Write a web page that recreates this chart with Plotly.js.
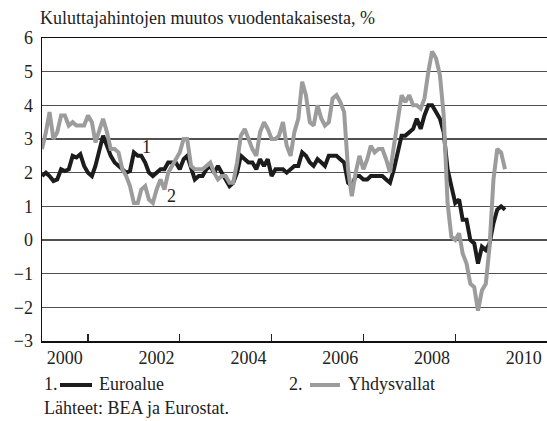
<!DOCTYPE html>
<html><head><meta charset="utf-8">
<script src="https://cdn.plot.ly/plotly-3.0.1.min.js"></script>
<style>html,body{margin:0;padding:0;background:#fff}#chart{width:547px;height:421px}</style>
</head><body><div id="chart"></div>
<script>
// Monthly data, January 2000 - February 2010
const firstYear = 2000;
const euroArea = [
  1.9, 2.0, 1.9, 1.75, 1.8, 2.1, 2.05, 2.1, 2.5, 2.45, 2.55, 2.2,
  2.0, 1.9, 2.2, 2.7, 3.1, 2.8, 2.5, 2.3, 2.2, 2.1, 2.0, 2.05,
  2.6, 2.5, 2.5, 2.3, 2.0, 1.9, 2.0, 2.1, 2.1, 2.3, 2.3, 2.3,
  2.1, 2.4, 2.5, 2.1, 1.8, 1.9, 1.9, 2.1, 2.2, 2.0, 2.2, 2.0,
  1.8, 1.6, 1.7, 2.0, 2.5, 2.4, 2.3, 2.3, 2.1, 2.4, 2.2, 2.4,
  1.9, 2.1, 2.1, 2.1, 2.0, 2.1, 2.2, 2.2, 2.6, 2.5, 2.3, 2.2,
  2.4, 2.3, 2.2, 2.5, 2.5, 2.5, 2.4, 2.3, 1.7, 1.6, 1.9, 1.9,
  1.8, 1.8, 1.9, 1.9, 1.9, 1.9, 1.8, 1.7, 2.1, 2.6, 3.1, 3.1,
  3.2, 3.3, 3.6, 3.3, 3.7, 4.0, 4.0, 3.8, 3.6, 3.2, 2.1, 1.6,
  1.1, 1.2, 0.6, 0.6, 0.0, -0.1, -0.7, -0.2, -0.3, -0.1, 0.5, 0.9,
  1.0, 0.9
];
const usa = [
  2.7, 3.2, 3.8, 3.0, 3.2, 3.7, 3.7, 3.4, 3.5, 3.4, 3.4, 3.4,
  3.7, 3.5, 2.9, 3.3, 3.6, 3.2, 2.7, 2.7, 2.6, 2.1, 1.9, 1.6,
  1.1, 1.1, 1.5, 1.6, 1.2, 1.1, 1.5, 1.8, 1.5, 2.0, 2.2, 2.4,
  2.6, 3.0, 3.0, 2.2, 2.1, 2.1, 2.1, 2.2, 2.3, 2.0, 1.8, 1.9,
  1.9, 1.7, 1.7, 2.3, 3.1, 3.3, 3.0, 2.7, 2.5, 3.2, 3.5, 3.3,
  3.0, 3.0, 3.1, 3.5, 2.8, 2.5, 3.2, 3.6, 4.7, 4.3, 3.5, 3.4,
  4.0, 3.6, 3.4, 3.5, 4.2, 4.3, 4.1, 3.8, 2.1, 1.3, 2.0, 2.5,
  2.1, 2.4, 2.8, 2.6, 2.7, 2.7, 2.4, 2.0, 2.8, 3.5, 4.3, 4.1,
  4.3, 4.0, 4.0, 3.9, 4.2, 5.0, 5.6, 5.4, 4.9, 3.7, 1.1, 0.1,
  0.0, 0.2, -0.4, -0.7, -1.3, -1.4, -2.1, -1.5, -1.3, -0.2, 1.8, 2.7,
  2.6, 2.1
];
const labelYears = ['2000', '2002', '2004', '2006', '2008', '2010'];
const gridYears = ['2000', '2002', '2004', '2006', '2008', '2010'];
const minorYears = ['2001', '2003', '2005', '2007', '2009'];
const yTicks = [-3, -2, -1, 0, 1, 2, 3, 4, 5, 6];

const months = euroArea.map((_, i) => {
  const y = firstYear + Math.floor(i / 12);
  const m = (i % 12) + 1;
  return y + '-' + String(m).padStart(2, '0') + '-01';
});

const FONT = 'Liberation Serif, Times New Roman, serif';
const TXT = '#222';
const L = 42, T = 38, W = 505, H = 303;
const px = x => (x - L) / W;
const py = y => (T + H - y) / H;

const traces = [
  {x: months, y: euroArea, type: 'scatter', mode: 'lines', name: 'Euroalue',
   line: {color: '#1c1c1c', width: 4}, hoverinfo: 'x+y'},
  {x: months, y: usa, type: 'scatter', mode: 'lines', name: 'Yhdysvallat',
   line: {color: '#9c9c9c', width: 4}, hoverinfo: 'x+y'}
];

const xRange = ['2000-01-01', '2011-01-01'];
const ann = (text, x, y, extra) => Object.assign({text, x, y, xref: 'paper', yref: 'paper',
  xanchor: 'left', yanchor: 'middle', showarrow: false, font: {family: FONT, size: 18, color: TXT}}, extra || {});

const layout = {
  width: 547, height: 421,
  margin: {l: L, r: 0, t: T, b: 421 - T - H, pad: 0},
  paper_bgcolor: '#fff', plot_bgcolor: '#fff',
  showlegend: false,
  title: {text: 'Kuluttajahintojen muutos vuodentakaisesta, %', xref: 'container', yref: 'container',
    x: 40 / 547, xanchor: 'left', y: 1 - 18 / 421, yanchor: 'middle',
    font: {family: FONT, size: 18, color: TXT}},
  xaxis: {
    type: 'date', range: xRange, fixedrange: true,
    tickmode: 'array', tickvals: labelYears.map(y => y + '-07-01'), ticktext: labelYears,
    ticks: '', showgrid: false, zeroline: false,
    showline: true, linecolor: '#111', linewidth: 1.5, mirror: true,
    tickfont: {family: FONT, size: 18, color: TXT},
    minor: {tickmode: 'array', tickvals: minorYears.map(y => y + '-01-01'), ticks: 'inside',
      ticklen: 7, tickwidth: 1.2, tickcolor: '#222', showgrid: false}
  },
  xaxis2: {
    type: 'date', range: xRange, overlaying: 'x', anchor: 'y', fixedrange: true,
    tickmode: 'array', tickvals: gridYears.map(y => y + '-01-01'),
    showticklabels: false, ticks: '', showgrid: true, gridcolor: '#505050', gridwidth: 1.2,
    showline: false, zeroline: false
  },
  yaxis: {
    range: [-3, 6], fixedrange: true, tickmode: 'array', tickvals: yTicks,
    ticks: '', showgrid: true, gridcolor: '#505050', gridwidth: 1.2, zeroline: false,
    showline: true, linecolor: '#111', linewidth: 1.5,
    tickfont: {family: FONT, size: 18, color: TXT}, ticklabelstandoff: 4
  },
  annotations: [
    {text: '1', x: '2002-04-15', y: 2.76, xref: 'x', yref: 'y', showarrow: false,
     font: {family: FONT, size: 18, color: TXT}},
    {text: '2', x: '2002-10-30', y: 1.32, xref: 'x', yref: 'y', showarrow: false,
     font: {family: FONT, size: 18, color: TXT}},
    ann('1.', px(42), py(384)),
    ann('Euroalue', px(97), py(384)),
    ann('2.', px(287), py(384)),
    ann('Yhdysvallat', px(346), py(384)),
    ann('Lähteet: BEA ja Eurostat.', px(42), py(408))
  ],
  shapes: [
    {type: 'line', xref: 'paper', yref: 'paper', x0: px(60), x1: px(92), y0: py(385), y1: py(385),
     line: {color: '#1c1c1c', width: 4}},
    {type: 'line', xref: 'paper', yref: 'paper', x0: px(310), x1: px(340), y0: py(385), y1: py(385),
     line: {color: '#9c9c9c', width: 4}}
  ]
};

Plotly.newPlot('chart', traces, layout, {displayModeBar: false, staticPlot: true});
</script>
</body></html>
